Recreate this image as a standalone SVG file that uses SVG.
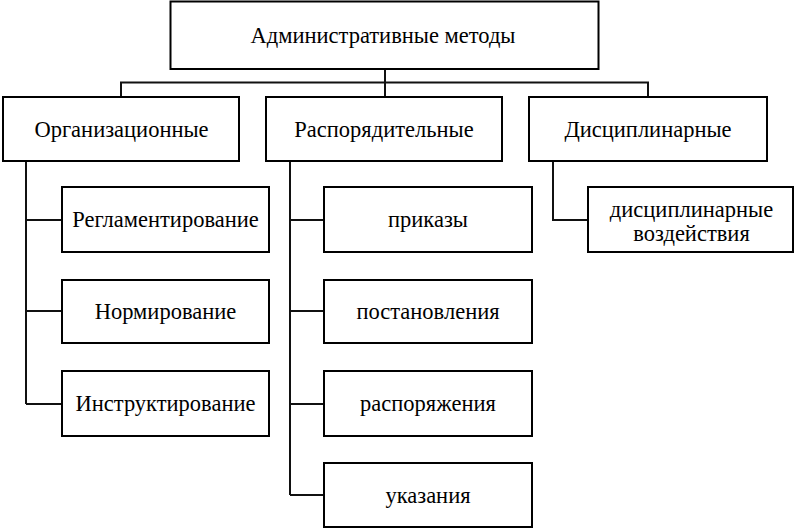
<svg xmlns="http://www.w3.org/2000/svg" width="800" height="529" viewBox="0 0 800 529">
<style>
rect{fill:#fff;stroke:#000;stroke-width:2}
text{font-family:"Liberation Serif","Times New Roman",serif;font-size:22.5px;fill:#000;text-anchor:middle}
#connectors path{fill:none;stroke:#111;stroke-width:2}
</style>
<rect x="0" y="0" width="800" height="529" style="stroke:none"/>
<g id="connectors">
<path d="M385 69V82.5M121 97V82.5H648V97M385 82.5V97"/>
<path d="M26 161V404M26 220H62M26 311H62M26 404H62"/>
<path d="M290 161V495M290 220H324M290 311H324M290 404H324M290 495H324"/>
<path d="M553 161V220H588"/>
</g>
<g id="root"><rect x="170.5" y="1.5" width="428" height="67.5"/><text x="383" y="42.5">Административные методы</text></g>
<g id="org"><rect x="3" y="97" width="236" height="64"/><text x="121.5" y="136.5">Организационные</text></g>
<g id="rasp"><rect x="266" y="97" width="236" height="64"/><text x="384" y="136.5">Распорядительные</text></g>
<g id="disc"><rect x="529" y="97" width="238" height="64"/><text x="648" y="136.5">Дисциплинарные</text></g>
<g id="reg"><rect x="62" y="187" width="207" height="65"/><text x="165.5" y="227">Регламентирование</text></g>
<g id="norm"><rect x="62" y="280" width="207" height="63"/><text x="165.5" y="319">Нормирование</text></g>
<g id="instr"><rect x="62" y="371" width="207" height="65"/><text x="165.5" y="411">Инструктирование</text></g>
<g id="prikazy"><rect x="324" y="187" width="208" height="65"/><text x="428" y="227">приказы</text></g>
<g id="postan"><rect x="324" y="280" width="208" height="63"/><text x="428" y="319">постановления</text></g>
<g id="rasporyazh"><rect x="324" y="371" width="208" height="65"/><text x="428" y="411">распоряжения</text></g>
<g id="ukaz"><rect x="324" y="463" width="208" height="64"/><text x="428" y="503">указания</text></g>
<g id="vozd"><rect x="588" y="187" width="205" height="65"/><text x="691.5" y="217">дисциплинарные</text><text x="691.5" y="241">воздействия</text></g>
</svg>
